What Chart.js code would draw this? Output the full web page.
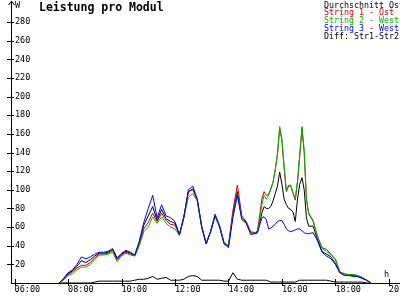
<!DOCTYPE html>
<html><head><meta charset="utf-8">
<script src="https://cdn.jsdelivr.net/npm/chart.js@4.4.1/dist/chart.umd.min.js"></script>
<style>html,body{margin:0;padding:0;background:#fff}canvas{display:block}</style>
</head><body>
<canvas id="c" width="400" height="300"></canvas>
<script>
const times = ["07:40","07:50","08:00","08:10","08:20","08:30","08:40","08:50","09:00","09:10","09:20","09:30","09:40","09:50","10:00","10:10","10:20","10:30","10:40","10:50","11:00","11:10","11:20","11:30","11:40","11:50","12:00","12:10","12:20","12:30","12:40","12:50","13:00","13:10","13:20","13:30","13:40","13:50","14:00","14:10","14:20","14:30","14:40","14:50",
"15:00","15:05","15:10","15:15","15:20","15:25","15:30","15:35","15:40","15:45","15:50","15:55","16:00","16:05","16:10","16:15","16:20","16:25","16:30","16:35","16:40","16:45","16:50","16:55","17:00",
"17:10","17:20","17:30","17:40","17:50","18:00","18:10","18:20","18:30","18:40","18:50","19:00","19:10","19:20"];

const durchschnitt = [0,4,10,13,18,24,22,25,29,32,32,33,36,26,31,34,32,30,44,62,72,82,67,79,69,66,64,52,71,98,101,89,60,42,55,73,61,43,39,74,98,70,65,54,
53,54,64,75,82,80,80,82,88,96,104,119,106,90,84,80,79,76,66,90,106,113,100,70,61,
61,46,34,31,28,21,11,9,8,8,7,5,3,0];

const string1 = [0,4,9,12,16,19,19,22,27,31,31,32,35,25,30,33,31,29,42,58,65,75,66,75,67,63,62,52,72,98,100,90,61,42,56,74,62,43,40,78,105,72,66,55,
54,56,72,90,98,94,95,101,108,121,137,166,153,123,98,104,104,96,89,108,136,166,140,90,75,
67,50,38,36,31,25,12,10,9,9,8,6,3,0];

const string2 = [0,3,8,10,14,17,17,20,25,30,30,31,33,23,29,32,30,29,40,55,60,71,64,71,64,60,58,51,70,92,96,88,60,43,55,72,62,44,40,72,95,70,64,54,
53,54,68,84,94,90,94,100,108,122,139,168,154,125,99,105,105,97,90,110,138,168,142,90,74,
66,49,37,34,30,26,12,9,9,9,8,6,3,0];

const string3 = [0,5,11,14,20,28,26,28,31,33,33,34,37,27,32,35,33,30,45,65,80,94,70,84,72,70,66,52,70,100,104,90,60,42,55,72,60,42,38,70,94,68,64,52,
53,54,62,70,71,68,58,59,61,63,66,67,67,63,58,56,55,56,57,58,58,56,54,53,53,
54,45,33,29,26,20,11,8,8,7,7,5,3,0];

const diff = [0,0,0,0,0,0,0,0,1,2,2,2,2,2,2,2,2,3,4,4,5,7,4,5,6,3,3,3,4,7,8,7,3,3,3,3,3,2,2,11,4,3,3,3,
3,3,3,3,3,3,2,1,1,1,1,1,1,1,1,1,1,1,1,2,3,3,3,3,3,
3,3,3,3,2,1,1,1,1,1,1,1,0,0];

const seriesLabels = ["Durchschnitt Ost","String 1 - Ost","String 2 - West","String 3 - West","Diff: Str1-Str2"];
const xTickValues = [360,480,600,720,840,960,1080,1200];
const yTickValues = [20,40,60,80,100,120,140,160,180,200,220,240,260,280];
const titleText = "Leistung pro Modul";
const yUnit = "W";
const xUnit = "h";

const toMin = s => { const p = s.split(":"); return (+p[0])*60 + (+p[1]); };
const fmt = v => { const h = Math.floor(v/60), m = v%60; return String(h).padStart(2,"0")+":"+String(m).padStart(2,"0"); };
const mk = arr => times.map((t,i) => ({x: toMin(t), y: arr[i]}));

const colors = ["#000000","#c80000","#00b400","#0000ff","#000000"];
const orders = [3,2,1,0,4];
const allSeries = [durchschnitt,string1,string2,string3,diff];

const MONO = "'DejaVu Sans Mono', 'Liberation Mono', monospace";

const decor = {
  id: "decor",
  afterDraw(chart) {
    const ctx = chart.ctx, a = chart.chartArea;
    const xs = chart.scales.x, ys = chart.scales.y;
    ctx.save();
    ctx.strokeStyle = "#000"; ctx.lineWidth = 1;
    ctx.beginPath();
    yTickValues.forEach(v => { const y = Math.round(ys.getPixelForValue(v)) + 0.5; ctx.moveTo(a.left-4, y); ctx.lineTo(a.left+3, y); });
    xTickValues.forEach(v => { const x = Math.round(xs.getPixelForValue(v)) + 0.5; ctx.moveTo(x, a.bottom-4); ctx.lineTo(x, a.bottom+3); });
    // y axis extension + arrow
    const ax = Math.round(a.left) + 0.5;
    ctx.moveTo(ax, a.top); ctx.lineTo(ax, 1);
    ctx.moveTo(ax-3, 5); ctx.lineTo(ax, 1); ctx.lineTo(ax+3, 5);
    ctx.stroke();
    ctx.fillStyle = "#000";
    ctx.font = "8.5px " + MONO;
    ctx.textBaseline = "alphabetic";
    ctx.fillText(yUnit, 15, 8);
    ctx.fillText(xUnit, 384, 277);
    ctx.font = "bold 11.5px " + MONO;
    ctx.fillText(titleText, 39, 11);
    ctx.font = "8.3px " + MONO;
    chart.data.datasets.forEach((ds, i) => {
      ctx.fillStyle = ds.borderColor;
      ctx.fillText(ds.label, 324, 7.5 + i*7.75);
    });
    ctx.restore();
  }
};

new Chart(document.getElementById("c"), {
  type: "line",
  data: {
    datasets: allSeries.map((arr, i) => ({
      label: seriesLabels[i], data: mk(arr), borderColor: colors[i], backgroundColor: colors[i],
      borderWidth: 1, pointRadius: 0, tension: 0, fill: false, order: orders[i]
    }))
  },
  options: {
    responsive: false, animation: false, devicePixelRatio: 1,
    layout: { padding: { left: 3, right: 0, top: 3.4, bottom: 2.8 } },
    plugins: { legend: { display: false }, tooltip: { enabled: false }, title: { display: false } },
    scales: {
      x: {
        type: "linear", min: 352, max: 1225,
        afterBuildTicks: s => { s.ticks = xTickValues.map(v => ({ value: v })); },
        afterFit: s => { s.paddingLeft = 0; s.paddingRight = 0; },
        grid: { display: false, drawTicks: false },
        border: { display: true, color: "#000", width: 1 },
        ticks: { align: "start", padding: 2, autoSkip: false, maxRotation: 0, color: "#000",
          font: { family: MONO, size: 8.5 }, callback: v => fmt(v) }
      },
      y: {
        min: 0, max: 300,
        afterBuildTicks: s => { s.ticks = yTickValues.map(v => ({ value: v })); },
        afterFit: s => { s.paddingTop = 0; s.paddingBottom = 0; },
        grid: { display: false, drawTicks: false },
        border: { display: true, color: "#000", width: 1 },
        ticks: { mirror: true, padding: 4, color: "#000", font: { family: MONO, size: 8.5 } }
      }
    }
  },
  plugins: [decor]
});
</script>
</body></html>
